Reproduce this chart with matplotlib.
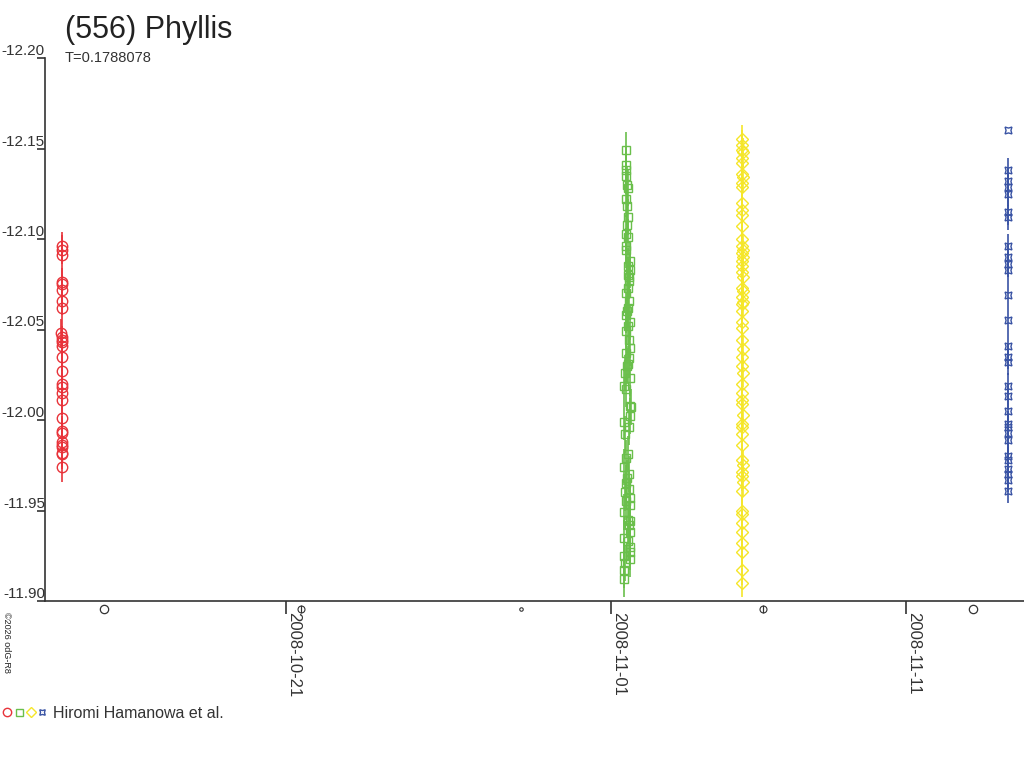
import numpy as np
import matplotlib
matplotlib.use('Agg')
import matplotlib.pyplot as plt
from matplotlib.legend_handler import HandlerTuple

plt.rcParams['font.family'] = ['Liberation Sans', 'DejaVu Sans']

# x values: days since 2008-10-01 00:00 UT
tick_days = [20, 31, 41]
tick_labels = ['2008-10-21', '2008-11-01', '2008-11-11']

# red circles (2008-10-13)
red_t = [12.39, 12.40, 12.39, 12.40, 12.41, 12.39, 12.40, 12.38, 12.39, 12.40,
         12.41, 12.39, 12.40, 12.41, 12.39, 12.40, 12.39, 12.40, 12.39, 12.41,
         12.40, 12.39, 12.41, 12.40, 12.39, 12.40, 12.41, 12.39]
red_mag = [-12.096, -12.094, -12.091, -12.076, -12.075, -12.066, -12.062, -12.048,
           -12.046, -12.044, -12.041, -12.035, -12.027, -12.020, -12.018, -12.015,
           -12.011, -12.001, -11.994, -11.993, -11.986, -11.985, -11.982, -11.981,
           -11.974, -12.072, -12.043, -11.988]

# green squares (2008-11-01)
green_t = [31.525, 31.525, 31.525, 31.530, 31.549, 31.569, 31.525, 31.549, 31.569, 31.549,
           31.525, 31.569, 31.505, 31.525, 31.637, 31.569, 31.661, 31.603, 31.569, 31.525,
           31.603, 31.569, 31.525, 31.637, 31.525, 31.603, 31.637, 31.525, 31.603, 31.569,
           31.549, 31.492, 31.637, 31.458, 31.525, 31.637, 31.685, 31.661, 31.434, 31.603,
           31.492, 31.569, 31.525, 31.458, 31.603, 31.525, 31.492, 31.637, 31.637, 31.458,
           31.569, 31.661, 31.637, 31.458, 31.569, 31.637, 31.661, 31.434, 31.637, 31.492,
           31.458, 31.458, 31.590, 31.610, 31.540, 31.580, 31.620, 31.500, 31.560, 31.600]
green_mag = [-12.149, -12.141, -12.138, -12.135, -12.130, -12.128, -12.122, -12.118, -12.112, -12.108,
             -12.103, -12.101, -12.096, -12.094, -12.088, -12.085, -12.083, -12.079, -12.073, -12.070,
             -12.066, -12.062, -12.058, -12.054, -12.049, -12.044, -12.040, -12.037, -12.034, -12.031,
             -12.030, -12.026, -12.023, -12.019, -12.017, -12.008, -12.007, -12.002, -11.999, -11.996,
             -11.992, -11.981, -11.979, -11.974, -11.970, -11.965, -11.960, -11.957, -11.953, -11.949,
             -11.945, -11.944, -11.938, -11.935, -11.933, -11.930, -11.927, -11.925, -11.923, -11.921,
             -11.917, -11.912, -12.080, -12.077, -12.060, -12.052, -11.962, -11.955, -11.968, -11.942]

# yellow diamonds (2008-11-05)
yellow_t = [35.458, 35.458, 35.450, 35.465, 35.458, 35.452, 35.458, 35.465, 35.450, 35.458,
            35.458, 35.462, 35.458, 35.452, 35.440, 35.470, 35.458, 35.475, 35.445, 35.462,
            35.458, 35.470, 35.450, 35.465, 35.458, 35.475, 35.452, 35.462, 35.458, 35.440,
            35.465, 35.458, 35.450, 35.470, 35.445, 35.462, 35.458, 35.440, 35.465, 35.458,
            35.450, 35.462, 35.458, 35.445, 35.470, 35.458, 35.452, 35.465, 35.458, 35.462,
            35.458, 35.450, 35.458, 35.462, 35.458, 35.458, 35.458, 35.458, 35.458]
yellow_mag = [-12.155, -12.152, -12.149, -12.148, -12.145, -12.142, -12.136, -12.134, -12.131, -12.129,
              -12.120, -12.116, -12.113, -12.107, -12.096, -12.094, -12.092, -12.090, -12.088, -12.085,
              -12.082, -12.079, -12.073, -12.071, -12.068, -12.065, -12.060, -12.054, -12.051, -12.044,
              -12.039, -12.035, -12.030, -12.026, -12.020, -12.015, -12.011, -12.009, -12.003, -11.998,
              -11.996, -11.992, -11.986, -11.978, -11.975, -11.971, -11.969, -11.966, -11.961, -11.950,
              -11.948, -11.943, -11.938, -11.932, -11.927, -11.917, -11.910, -12.100, -12.064]

# blue stars (2008-11-14)
blue_t = [44.47] * 29
blue_mag = [-12.160, -12.138, -12.132, -12.129, -12.125, -12.115, -12.112, -12.096, -12.090, -12.086,
            -12.083, -12.069, -12.055, -12.041, -12.035, -12.032, -12.019, -12.013, -12.005, -11.998,
            -11.996, -11.993, -11.989, -11.980, -11.978, -11.973, -11.970, -11.967, -11.961]
blue_err = [0.0] + [0.007] * 28

# moon phases shown under the time axis
moon_days = [13.83, 20.50, 27.97, 36.17, 43.26]
moon_kind = ['full', 'last', 'new', 'first', 'full']

groups = [
    (red_t, red_mag, 0.008, 'o', '#e8333a', 7.5),
    (green_t, green_mag, 0.010, 's', '#6abf4b', 6.3),
    (yellow_t, yellow_mag, 0.008, 'D', '#f5e62a', 6.3),
    (blue_t, blue_mag, blue_err, (4, 1, 45), '#3953a4', 7.0),
]

fig = plt.figure(figsize=(10.24, 7.68), dpi=100)
ax = fig.add_axes([45 / 1024, 1 - 601 / 768, 1 - 45 / 1024, 543 / 768])

handles = []
for t, mag, err, marker, color, ms in groups:
    ax.errorbar(t, mag, yerr=err, fmt='none', ecolor=color, elinewidth=1.2, capsize=0)
    h, = ax.plot(t, mag, linestyle='none', marker=marker, ms=ms, mfc='none',
                 mec=color, mew=1.0)
    handles.append(h)

ax.set_xlim(11.83, 45.0)
ax.set_ylim(-11.90, -12.20)

ax.spines['top'].set_visible(False)
ax.spines['right'].set_visible(False)
for sp in ax.spines.values():
    sp.set_color('#333333')
    sp.set_linewidth(1.2)

ax.set_yticks([-12.20, -12.15, -12.10, -12.05, -12.00, -11.95, -11.90])
ax.set_yticklabels(['-12.20', '-12.15', '-12.10', '-12.05', '-12.00', '-11.95', '-11.90'])
ax.tick_params(axis='y', direction='out', length=6, width=1.2, pad=-6,
               labelsize=11, colors='#333333')
for lbl in ax.get_yticklabels():
    lbl.set_verticalalignment('bottom')

ax.set_xticks(tick_days)
ax.set_xticklabels(tick_labels, rotation=-90, ha='left', va='top')
ax.tick_params(axis='x', direction='out', length=9, width=1.2, pad=-1,
               labelsize=12, colors='#333333')
ax.tick_params(axis='x', which='minor', bottom=False)

# moon phase symbols just below the axis
trans = ax.get_xaxis_transform()
for d, kind in zip(moon_days, moon_kind):
    if kind == 'full':
        ax.plot(d, -0.015, marker='o', ms=6, mfc='none', mec='#333333', mew=0.9,
                transform=trans, clip_on=False)
    elif kind == 'new':
        ax.plot(d, -0.015, marker='o', ms=2.5, mfc='none', mec='#333333', mew=0.8,
                transform=trans, clip_on=False)
    else:
        fs = 'left' if kind == 'last' else 'right'
        ax.plot(d, -0.015, marker='o', ms=5, fillstyle=fs, mfc='none', mec='#333333',
                mew=0.8, transform=trans, clip_on=False)

fig.text(65 / 1024, 1 - 30 / 768, '(556) Phyllis', fontsize=22, va='center',
         color='#222222')
fig.text(65 / 1024, 1 - 58 / 768, 'T=0.1788078', fontsize=10.5, va='center',
         color='#333333')
fig.text(2 / 1024, 1 - 612 / 768, '\u00a92026 odG-R8', fontsize=6.5, rotation=-90,
         va='top', ha='left', color='#222222')

fig.legend(handles=[tuple(handles)], labels=['Hiromi Hamanowa et al.'],
           handler_map={tuple: HandlerTuple(ndivide=None, pad=0.05)},
           loc='center left', bbox_to_anchor=(0, 1 - 713 / 768), frameon=False,
           fontsize=11.5, handlelength=2.9, handletextpad=0.3, borderaxespad=0,
           borderpad=0.1, labelcolor='#333333', markerscale=0.8)

fig.savefig('out.png', dpi=100)
